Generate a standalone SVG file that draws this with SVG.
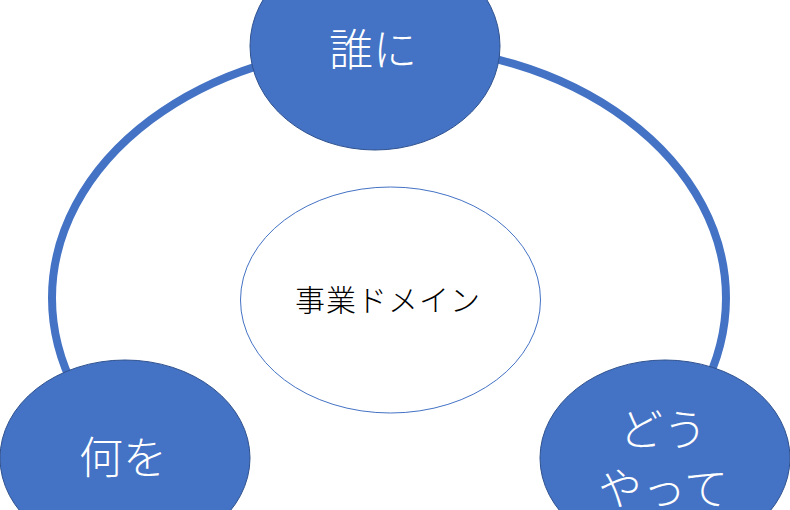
<svg xmlns="http://www.w3.org/2000/svg" width="790" height="510" viewBox="0 0 790 510">
<style>
.node{fill:#4472C4;stroke:#2F528F;stroke-width:1}
.lbl{fill:#FFFFFF;font-family:"Noto Sans CJK JP","Noto Sans",sans-serif;font-weight:300;font-size:44px;text-anchor:middle;dominant-baseline:central}
.ctr{fill:#000000;font-family:"Noto Sans CJK JP","Noto Sans",sans-serif;font-weight:300;font-size:30px;text-anchor:middle;dominant-baseline:central}
</style>
<rect width="790" height="510" fill="#FFFFFF"/>
<g id="connectors">
<ellipse cx="389" cy="298" rx="337" ry="252" fill="none" stroke="#4472C4" stroke-width="8"/>
</g>
<g id="center">
<ellipse cx="390.5" cy="300" rx="150" ry="113" fill="#FFFFFF" stroke="#4472C4" stroke-width="1"/>
<text class="ctr" x="388" y="298" letter-spacing="1">事業ドメイン</text>
</g>
<g id="who">
<ellipse class="node" cx="375" cy="46" rx="125" ry="104"/>
<text class="lbl" x="373" y="47">誰に</text>
</g>
<g id="what">
<ellipse class="node" cx="125" cy="458" rx="125" ry="98"/>
<text class="lbl" x="123" y="455">何を</text>
</g>
<g id="how">
<ellipse class="node" cx="665" cy="458" rx="125" ry="98"/>
<text class="lbl" x="663" y="427">どう</text>
<text class="lbl" x="663" y="486">やって</text>
</g>
</svg>
